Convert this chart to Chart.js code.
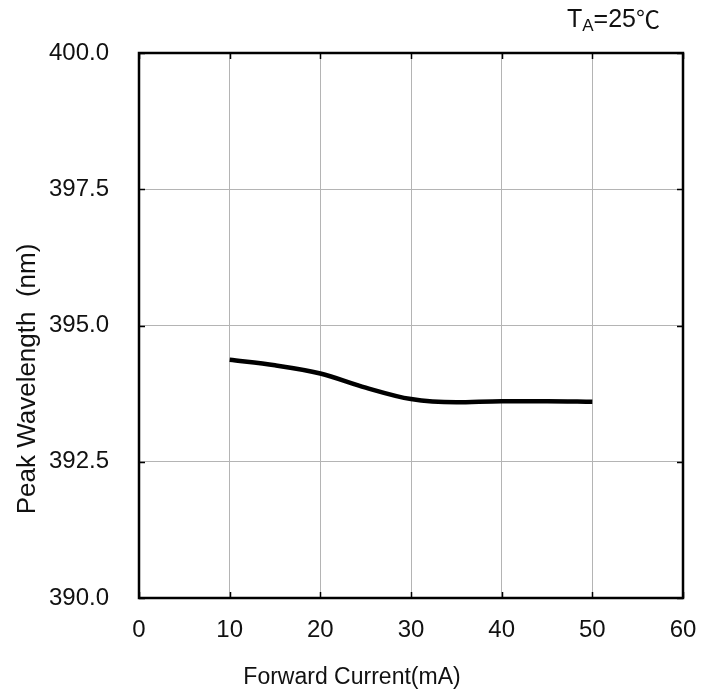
<!DOCTYPE html>
<html><head><meta charset="utf-8">
<script src="https://cdn.jsdelivr.net/npm/chart.js@4"></script>
<style>html,body{margin:0;padding:0;background:#fff;}#wrap{width:716px;height:697px;}</style>
</head><body><div id="wrap"><canvas id="c" width="716" height="697"></canvas></div>
<script>
const current = [10, 15, 20, 25, 30, 35, 40, 45, 50];
const wavelength = [394.37, 394.27, 394.12, 393.86, 393.65, 393.59, 393.61, 393.61, 393.60];
const xTicks = [0, 10, 20, 30, 40, 50, 60];
const yTicks = [390.0, 392.5, 395.0, 397.5, 400.0];
const xTitle = 'Forward Current(mA)';
const yTitle = 'Peak Wavelength  (nm)';

const FONT = '"Liberation Sans", Arial, sans-serif';

const framePlugin = {
  id: 'frame',
  afterDatasetsDraw(chart) {
    const {ctx, chartArea: a, scales: {x, y}} = chart;
    ctx.save();
    ctx.strokeStyle = '#000';
    ctx.lineWidth = 1.5;
    const L = 6;
    ctx.beginPath();
    xTicks.forEach(v => {
      const px = Math.round(x.getPixelForValue(v)) + 0.5;
      ctx.moveTo(px, a.bottom); ctx.lineTo(px, a.bottom - L);
      ctx.moveTo(px, a.top); ctx.lineTo(px, a.top + L);
    });
    yTicks.forEach(v => {
      const py = Math.round(y.getPixelForValue(v)) + 0.5;
      ctx.moveTo(a.left, py); ctx.lineTo(a.left + L, py);
      ctx.moveTo(a.right, py); ctx.lineTo(a.right - L, py);
    });
    ctx.stroke();
    ctx.lineWidth = 2.5;
    ctx.strokeRect(a.left, a.top, a.right - a.left, a.bottom - a.top);
    // axis titles
    ctx.fillStyle = '#111';
    ctx.textAlign = 'center';
    ctx.textBaseline = 'middle';
    ctx.font = '23px ' + FONT;
    ctx.fillText(xTitle, 352, 678);
    ctx.save();
    ctx.translate(28, 379);
    ctx.rotate(-Math.PI / 2);
    ctx.font = '26px ' + FONT;
    ctx.fillText(yTitle, 0, 0);
    ctx.restore();
    // annotation
    ctx.textAlign = 'left';
    ctx.textBaseline = 'alphabetic';
    ctx.font = '25px ' + FONT;
    let xx = 567;
    ctx.fillText('T', xx, 27);
    xx += ctx.measureText('T').width;
    ctx.font = '17px ' + FONT;
    ctx.fillText('A', xx, 31);
    xx += ctx.measureText('A').width;
    ctx.font = '25px ' + FONT;
    ctx.fillText('=25', xx, 27);
    xx += ctx.measureText('=25').width;
    ctx.font = '24px "Noto Sans CJK SC", "DejaVu Sans", sans-serif';
    ctx.fillText('℃', xx, 28);
    ctx.restore();
  }
};

new Chart(document.getElementById('c'), {
  type: 'line',
  data: {
    datasets: [{
      data: current.map((c, i) => ({x: c, y: wavelength[i]})),
      borderColor: '#000',
      borderWidth: 4.5,
      pointRadius: 0,
      cubicInterpolationMode: 'monotone',
      fill: false
    }]
  },
  options: {
    responsive: false,
    animation: false,
    devicePixelRatio: 1,
    layout: {padding: {top: 53, right: 33, left: 0, bottom: 0}},
    plugins: {legend: {display: false}, tooltip: {enabled: false}},
    scales: {
      x: {
        type: 'linear', min: 0, max: 60,
        afterBuildTicks: s => { s.ticks = xTicks.map(v => ({value: v})); },
        afterFit: s => { s.height = 99; },
        grid: {color: '#b4b4b4', lineWidth: 1, drawTicks: false, tickLength: 0},
        border: {display: false},
        ticks: {color: '#111', font: {family: FONT, size: 24}, padding: 18, maxRotation: 0, autoSkip: false}
      },
      y: {
        type: 'linear', min: 390, max: 400,
        afterBuildTicks: s => { s.ticks = yTicks.map(v => ({value: v})); },
        afterFit: s => { s.width = 139; },
        grid: {color: '#b4b4b4', lineWidth: 1, drawTicks: false, tickLength: 0},
        border: {display: false},
        ticks: {color: '#111', font: {family: FONT, size: 24}, padding: 30, autoSkip: false,
          callback: v => Number(v).toFixed(1)}
      }
    }
  },
  plugins: [framePlugin]
});
</script></body></html>
